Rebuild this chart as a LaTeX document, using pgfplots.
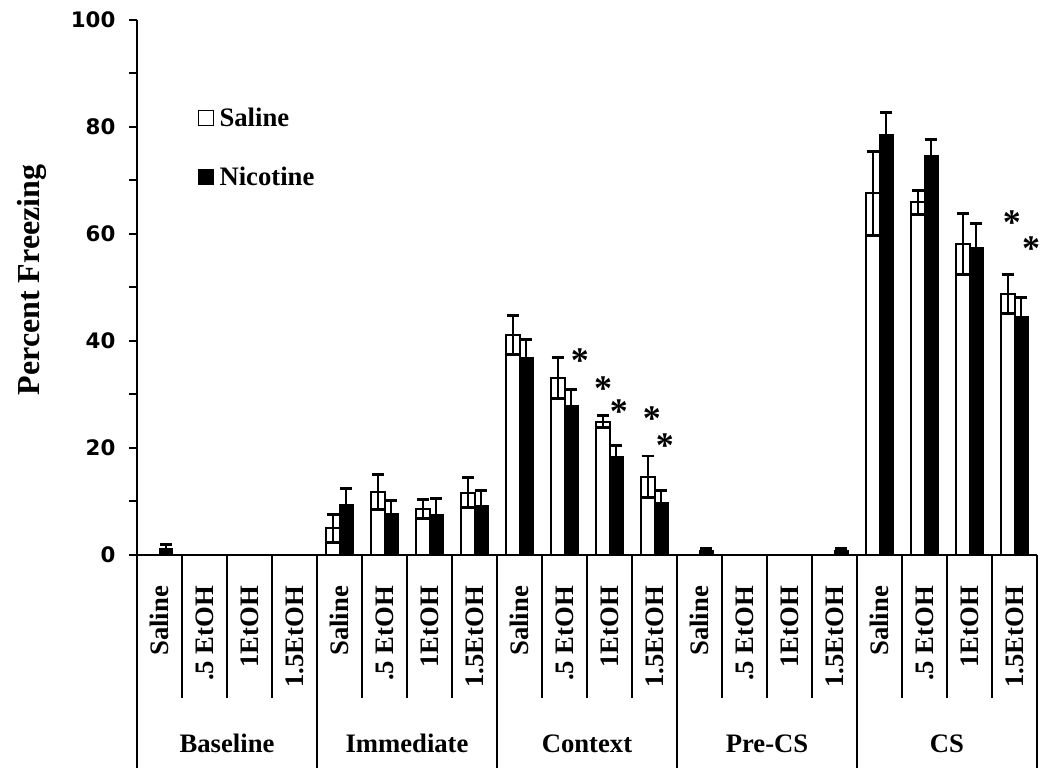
\documentclass[border=0pt]{standalone}
\usepackage{fontspec}
\setmainfont{Liberation Serif}
\newfontfamily\tickfont{DejaVu Sans}
\usepackage{pgfplots}
\pgfplotsset{compat=1.18}
\usetikzlibrary{calc}
\begin{document}
\begin{tikzpicture}
\pgfplotsset{
  sqlegend/.style={legend image code/.code={\draw[line width=1pt,##1] (0pt,-5.6pt) rectangle (11.5pt,5.6pt);}},
}
\begin{axis}[
  name=ax,
  scale only axis,
  width=675pt, height=401.25pt,
  ymin=0, ymax=100,
  xmin=-0.5, xmax=19.5,
  ybar=0pt, bar width=10pt,
  axis x line*=bottom, axis y line*=left,
  axis line style={line width=1.5pt},
  ytick={0,20,...,100},
  minor ytick={10,30,...,90},
  tick align=outside,
  major tick length=6pt, minor tick length=6pt,
  ytick style={line width=1.5pt, black},
  xtick={0,...,19},
  xtick style={draw=none},
  xticklabels={Saline,.5 EtOH,1EtOH,1.5EtOH,Saline,.5 EtOH,1EtOH,1.5EtOH,Saline,.5 EtOH,1EtOH,1.5EtOH,Saline,.5 EtOH,1EtOH,1.5EtOH,Saline,.5 EtOH,1EtOH,1.5EtOH},
  xticklabel style={rotate=90, anchor=east, font=\bfseries\fontsize{20pt}{20pt}\selectfont, inner sep=0pt},
  xticklabel shift=17pt,
  /pgf/number format/assume math mode=true,
  yticklabel style={font=\tickfont\bfseries\fontsize{16pt}{16pt}\selectfont, anchor=east, inner sep=0pt},
  yticklabel shift=10pt,
  clip=false,
  legend style={at={(axis cs:0.84,84)}, anchor=north west, draw=none, fill=none,
    font=\bfseries\fontsize{20pt}{20pt}\selectfont, row sep=26pt, inner sep=0pt,
    nodes={inner sep=1.5pt}},
  legend cell align=left,
  error bars/y dir=both, error bars/y explicit,
  error bars/error bar style={line width=1.5pt, black},
  error bars/error mark options={rotate=90, line width=2.2pt, mark size=4.6pt, black},
]
\addplot+[sqlegend, draw=black, fill=white, line width=1.5pt] coordinates {
 (4,5.0) +- (0,2.6)
 (5,11.8) +- (0,3.3)
 (6,8.6) +- (0,1.7)
 (7,11.6) +- (0,2.8)
 (8,41.1) +- (0,3.7)
 (9,33.1) +- (0,3.8)
 (10,24.9) +- (0,1.1)
 (11,14.6) +- (0,3.9)
 (16,67.6) +- (0,7.8)
 (17,65.9) +- (0,2.3)
 (18,58.1) +- (0,5.7)
 (19,48.8) +- (0,3.7)
};
\addlegendentry{\hspace{2.5pt}Saline}
\addplot+[sqlegend, draw=black, fill=black, line width=1pt] coordinates {
 (0,1.2) +- (0,0.7)
 (4,9.5) +- (0,3.0)
 (5,7.7) +- (0,2.4)
 (6,7.5) +- (0,3.1)
 (7,9.3) +- (0,2.8)
 (8,36.8) +- (0,3.5)
 (9,27.9) +- (0,3.0)
 (10,18.3) +- (0,2.1)
 (11,9.8) +- (0,2.2)
 (12,0.8) +- (0,0.5)
 (15,0.8) +- (0,0.5)
 (16,78.5) +- (0,4.2)
 (17,74.6) +- (0,3.0)
 (18,57.5) +- (0,4.4)
 (19,44.5) +- (0,3.7)
};
\addlegendentry{\hspace{2.5pt}Nicotine}
\begin{scope}[every node/.style={font=\bfseries\fontsize{27pt}{27pt}\selectfont, inner sep=0pt, yshift=-4.5pt}]
\node at (axis cs:9.34,37.4) {*};
\node at (axis cs:9.86,32.3) {*};
\node at (axis cs:10.21,28.0) {*};
\node at (axis cs:10.94,26.7) {*};
\node at (axis cs:11.23,21.5) {*};
\node at (axis cs:18.94,63.2) {*};
\node at (axis cs:19.37,58.3) {*};
\end{scope}
\end{axis}
% category dividers
\foreach \i in {1,2,3,5,6,7,9,10,11,13,14,15,17,18,19}
  \draw[line width=1.5pt] ($(ax.south west)+(\i*33.75pt,0)$) -- ++(0,-107.25pt);
\foreach \i in {0,4,8,12,16,20}
  \draw[line width=1.5pt] ($(ax.south west)+(\i*33.75pt,0)$) -- ++(0,-159.75pt);
% group labels
\foreach \g/\lab in {2/Baseline,6/Immediate,10/Context,14/Pre-CS,18/CS}
  \node[anchor=base, font=\bfseries\fontsize{20pt}{20pt}\selectfont, inner sep=0pt]
    at ($(ax.south west)+(\g*33.75pt,-148.5pt)$) {\lab};
% y label
\node[rotate=90, font=\bfseries\fontsize{24pt}{24pt}\selectfont, inner sep=0pt]
  at ($(ax.west)+(-78.75pt,5.6pt)$) {Percent Freezing};
\pgfresetboundingbox
\path[use as bounding box] ($(ax.south west)+(-102.75pt,-171.75pt)$) rectangle ($(ax.north east)+(9.75pt,15pt)$);
\end{tikzpicture}
\end{document}
